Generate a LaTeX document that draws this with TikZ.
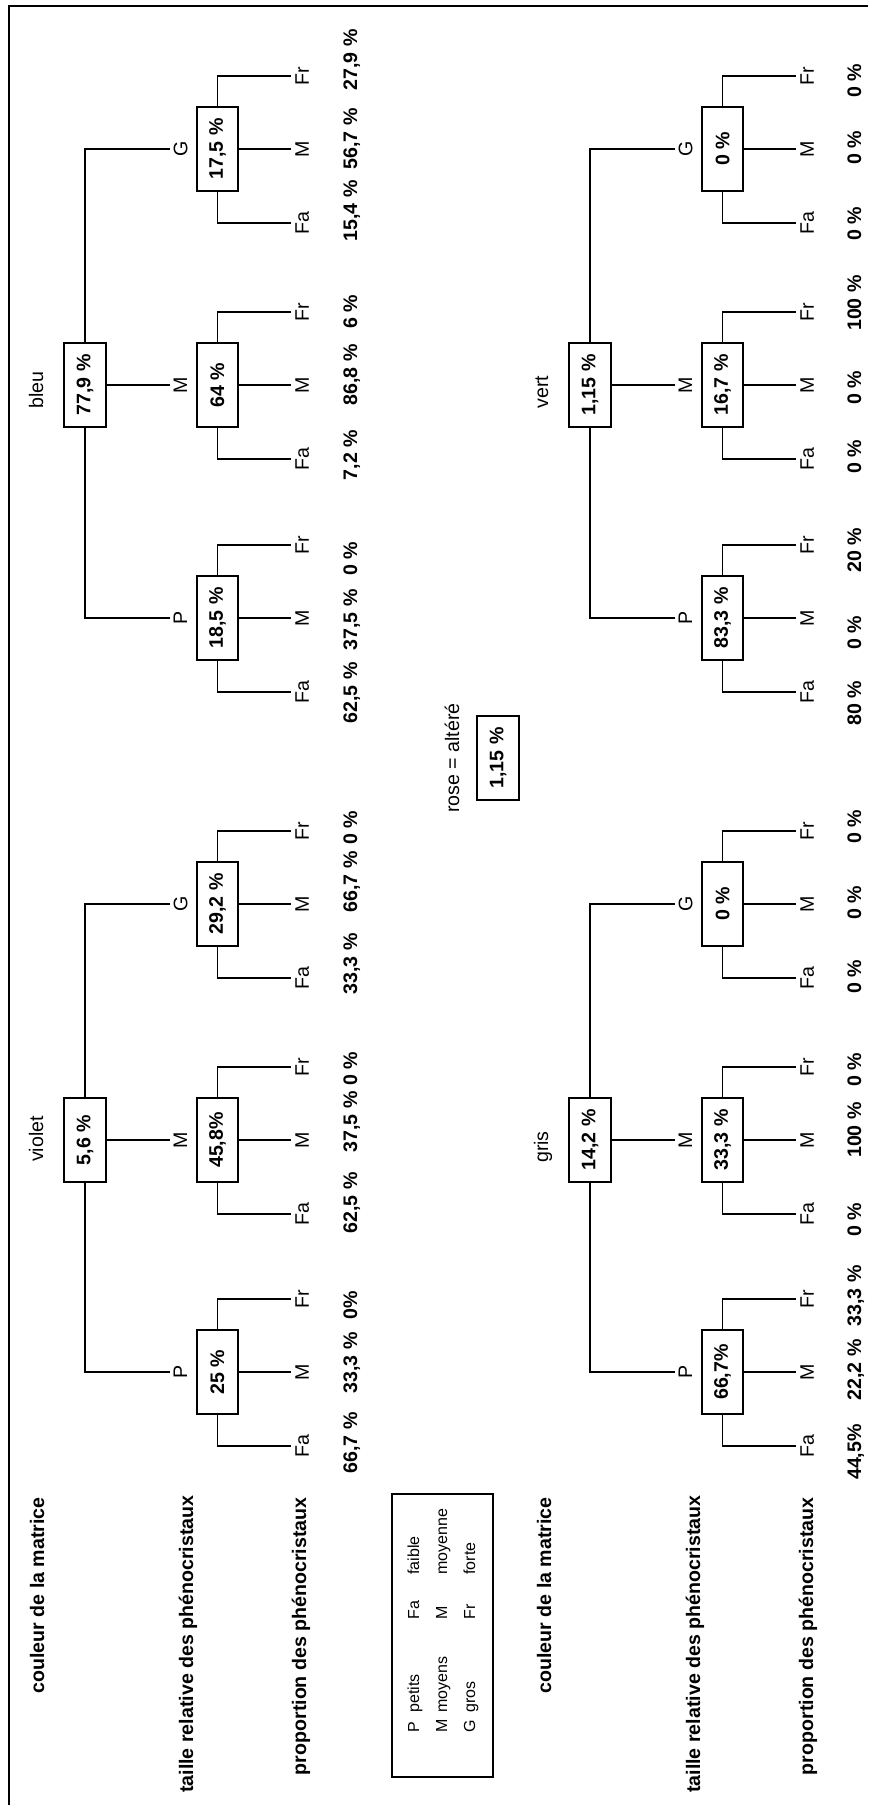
\documentclass[tikz,border=0pt]{standalone}
\usepackage{fontspec}
\setmainfont{Liberation Sans}
\newcommand\fsz{\fontsize{9.8pt}{11pt}\selectfont}
\newcommand\fsl{\fontsize{8pt}{9.5pt}\selectfont}
\tikzset{
  conn/.style={line width=0.65pt},
  pbox/.style={draw, line width=0.65pt, rotate=90, minimum width=42pt, minimum height=21pt, inner sep=0pt, font=\fsz\bfseries},
  cbox/.style={pbox, minimum height=20.5pt},
  clab/.style={rotate=90, anchor=north, inner sep=1.6pt, font=\fsz},
  leaf/.style={rotate=90, anchor=north, inner sep=2pt, font=\fsz},
  pct/.style={rotate=90, anchor=north, inner sep=0pt, font=\fsz\bfseries},
  rlab/.style={rotate=90, anchor=base, inner sep=0pt, font=\fsz},
  hlab/.style={rotate=90, anchor=base east, inner sep=0pt, font=\fsz\bfseries},
  lgd/.style={rotate=90, anchor=base west, inner sep=0pt, font=\fsl},
}
% root box + colour label
\newcommand\racine[6]{%
  \node[pbox] (#1) at (#2,#3) {#4};
  \node[rlab] (#1-t) at (#2-42,#6) {#5};
}
% child box with its three leaves
\newcommand\sous[5]{%
  \node[cbox] (#1) at (#2,#3) {#5};
  \node[clab] (#1-l) at (#2-47.5,#3) {#4};
  \node[leaf] (#1-fr) at (#2+73.5,#3-73) {Fr};
  \node[leaf] (#1-m) at (#2+73.5,#3) {M};
  \node[leaf] (#1-fa) at (#2+73.5,#3+74) {Fa};
  \draw[conn] (#1.east) |- (#1-fr.north);
  \draw[conn] (#1.south) -- (#1-m.north);
  \draw[conn] (#1.west) |- (#1-fa.north);
}
\newcommand\liens[1]{%
  \draw[conn] (#1.east) |- (#1G-l.north);
  \draw[conn] (#1.south) -- (#1M-l.north);
  \draw[conn] (#1.west) |- (#1P-l.north);
}
\newcommand\pc[4]{\node[pct] (#1) at (#2,#3) {#4};}
\begin{document}
\begin{tikzpicture}[x=0.5pt,y=-0.5pt]
\useasboundingbox (0,0) rectangle (868,1805);
% frame
\draw[line width=1.25pt] (9,1805) -- (9,6) -- (868,6);

% ---- bleu
\racine{bleu}{85}{385}{77,9 \%}{bleu}{390}
\sous{bleuG}{217.5}{149}{G}{17,5 \%}
\sous{bleuM}{217.5}{385}{M}{64 \%}
\sous{bleuP}{217.5}{618}{P}{18,5 \%}
\liens{bleu}
\pc{b1}{343}{211}{15,4 \%}\pc{b2}{343}{139}{56,7 \%}\pc{b3}{343}{60}{27,9 \%}
\pc{b4}{343}{455}{7,2 \%}\pc{b5}{343}{375}{86,8 \%}\pc{b6}{343}{312}{6 \%}
\pc{b7}{343}{693}{62,5 \%}\pc{b8}{343}{620}{37,5 \%}\pc{b9}{343}{559}{0 \%}

% ---- violet
\racine{violet}{85}{1140}{5,6 \%}{violet}{1139}
\sous{violetG}{217.5}{904}{G}{29,2 \%}
\sous{violetM}{217.5}{1140}{M}{45,8\%}
\sous{violetP}{217.5}{1372}{P}{25 \%}
\liens{violet}
\pc{v1}{343}{964}{33,3 \%}\pc{v2}{343}{882}{66,7 \%}\pc{v3}{343}{828}{0 \%}
\pc{v4}{343}{1203}{62,5 \%}\pc{v5}{343}{1122}{37,5 \%}\pc{v6}{343}{1069}{0 \%}
\pc{v7}{343}{1443}{66,7 \%}\pc{v8}{343}{1363}{33,3 \%}\pc{v9}{343}{1305}{0\%}

% ---- vert
\racine{vert}{590}{385}{1,15 \%}{vert}{392}
\sous{vertG}{722.5}{149}{G}{0 \%}
\sous{vertM}{722.5}{385}{M}{16,7 \%}
\sous{vertP}{722.5}{618}{P}{83,3 \%}
\liens{vert}
\pc{e1}{847}{224}{0 \%}\pc{e2}{847}{148}{0 \%}\pc{e3}{847}{81}{0 \%}
\pc{e4}{847}{457}{0 \%}\pc{e5}{847}{388}{0 \%}\pc{e6}{847}{303}{100 \%}
\pc{e7}{847}{703}{80 \%}\pc{e8}{847}{633}{0 \%}\pc{e9}{847}{550}{20 \%}

% ---- gris
\racine{gris}{590}{1140}{14,2 \%}{gris}{1147}
\sous{grisG}{722.5}{904}{G}{0 \%}
\sous{grisM}{722.5}{1140}{M}{33,3 \%}
\sous{grisP}{722.5}{1372}{P}{66,7\%}
\liens{gris}
\pc{g1}{847}{977}{0 \%}\pc{g2}{847}{903}{0 \%}\pc{g3}{847}{827}{0 \%}
\pc{g4}{847}{1220}{0 \%}\pc{g5}{847}{1130}{100 \%}\pc{g6}{847}{1070}{0 \%}
\pc{g7}{847}{1452}{44,5\%}\pc{g8}{847}{1370}{22,2 \%}\pc{g9}{847}{1296}{33,3 \%}

% ---- rose
\node[rlab] (rose) at (459,758) {rose = altéré};
\node[pbox] (alt) at (498,758) {1,15 \%};

% ---- row headings
\node[hlab] (h1) at (44,1497) {couleur de la matrice};
\node[hlab] (h2) at (193,1495) {taille relative des phénocristaux};
\node[hlab] (h3) at (306,1497) {proportion des phénocristaux};
\node[hlab] (h4) at (551,1497) {couleur de la matrice};
\node[hlab] (h5) at (700,1495) {taille relative des phénocristaux};
\node[hlab] (h6) at (813,1497) {proportion des phénocristaux};

% ---- legend
\node[draw, line width=0.65pt, rotate=90, minimum width=141.5pt, minimum height=50.5pt, inner sep=0pt] (leg) at (442.5,1635.5) {};
\node[lgd] (l1) at (419,1733) {P};
\node[lgd] (l2) at (419,1713) {petits};
\node[lgd] (l3) at (419,1620) {Fa};
\node[lgd] (l4) at (419,1575) {faible};
\node[lgd] (l5) at (447,1733) {M};
\node[lgd] (l6) at (447,1713) {moyens};
\node[lgd] (l7) at (447,1620) {M};
\node[lgd] (l8) at (447,1575) {moyenne};
\node[lgd] (l9) at (475,1733) {G};
\node[lgd] (l10) at (475,1713) {gros};
\node[lgd] (l11) at (475,1620) {Fr};
\node[lgd] (l12) at (475,1575) {forte};
\end{tikzpicture}
\end{document}
